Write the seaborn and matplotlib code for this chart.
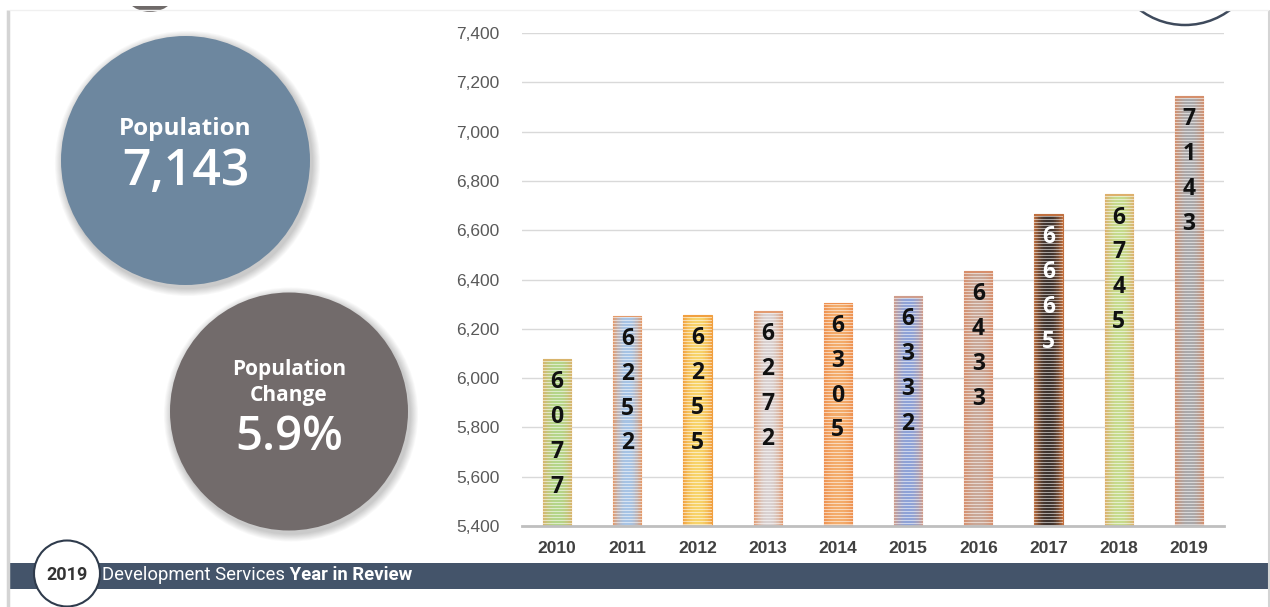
import numpy as np
import pandas as pd
import matplotlib
matplotlib.use("Agg")
import matplotlib.pyplot as plt
import seaborn as sns
from matplotlib.patches import Circle, Rectangle
from matplotlib.ticker import FuncFormatter, MultipleLocator
from matplotlib.colors import to_rgb

# ---- data -------------------------------------------------------------
years = ["2010", "2011", "2012", "2013", "2014", "2015", "2016", "2017", "2018", "2019"]
population = [6077, 6252, 6255, 6272, 6305, 6332, 6433, 6665, 6745, 7143]

# bar fill: colour in the middle of the bar and at its two sides
bar_center_colors = ["#b4d68a", "#a6c4e6", "#f8d46a", "#d9d2d2", "#f4ad6c",
                     "#8ea3d8", "#c9a898", "#3d332e", "#c6dc8e", "#a9a9ab"]
bar_edge_colors = ["#d8b46c", "#e49a6a", "#f1a040", "#e39c72", "#ee9150",
                   "#cf9d8c", "#d88f6c", "#c0703f", "#ddb06c", "#d58f6c"]
label_colors = ["#111111"] * 7 + ["#ffffff"] + ["#111111"] * 2

FIG_W, FIG_H = 1270, 607

fig = plt.figure(figsize=(FIG_W / 100, FIG_H / 100), dpi=100)
fig.patch.set_facecolor("white")

# ---- page decoration layer (pixel coordinates) --------------------------
deco = fig.add_axes([0, 0, 1, 1], zorder=0)
deco.set_xlim(0, FIG_W)
deco.set_ylim(FIG_H, 0)
deco.axis("off")

# page frame lines
deco.plot([7.5, 7.5], [10, FIG_H], color="#d4d4d4", lw=2.5, solid_capstyle="butt")
deco.plot([1268.5, 1268.5], [10, FIG_H], color="#d4d4d4", lw=1.5, solid_capstyle="butt")
deco.plot([10, 1268], [10, 10], color="#f0f0f0", lw=1)

page_clip = Rectangle((0, 10), FIG_W, FIG_H, transform=deco.transData)

# partial shapes running off the top of the page
blob = Circle((150, -18), 30, facecolor="#6f6a69", edgecolor="none")
deco.add_patch(blob)
blob.set_clip_path(Rectangle((0, 6), FIG_W, FIG_H, transform=deco.transData))
ring = Circle((1185, -50), 75, facecolor="none", edgecolor="#3e4a5c", lw=1.8)
deco.add_patch(ring)
ring.set_clip_path(page_clip)


def soft_circle(cx, cy, r, color):
    # blurred shadow under the circle
    for k in range(9, 0, -1):
        deco.add_patch(Circle((cx + 2, cy + 3), r + k * 0.9,
                              facecolor="black", edgecolor="none", alpha=0.022))
    deco.add_patch(Circle((cx, cy), r, facecolor=color, edgecolor="none"))


# summary bubbles
latest = population[-1]
change = (population[-1] - population[-2]) / population[-2] * 100

soft_circle(185.5, 160.5, 124.5, "#6d879f")
deco.text(185.5, 129, "Population", ha="center", va="center", color="white",
          fontsize=17.5, fontweight="bold", family="Open Sans")
deco.text(185.5, 172, f"{latest:,}", ha="center", va="center", color="white",
          fontsize=36, fontweight="semibold", family="Open Sans")

soft_circle(289, 411.5, 119, "#726b6b")
deco.text(289, 370, "Population", ha="center", va="center", color="white",
          fontsize=15, fontweight="bold", family="Open Sans")
deco.text(289, 395, "Change", ha="center", va="center", color="white",
          fontsize=15, fontweight="bold", family="Open Sans")
deco.text(289, 437, f"{change:.1f}%", ha="center", va="center", color="white",
          fontsize=34, fontweight="semibold", family="Open Sans")

# footer band
deco.add_patch(Rectangle((10, 563), FIG_W - 10, 26, facecolor="#44546a", edgecolor="none"))
deco.add_patch(Circle((67, 573.5), 33, facecolor="white", edgecolor="#2f3b4c", lw=1.5))
deco.text(67, 575.5, "2019", ha="center", va="center", color="#333333",
          fontsize=13, fontweight="bold", family="Roboto")
t1 = deco.text(102, 575.5, "Development Services", ha="left", va="center",
               color="white", fontsize=13.3, family="Roboto")
deco.annotate(" Year in Review", xy=(1, 0), xycoords=t1, ha="left", va="bottom",
              color="white", fontsize=13.3, fontweight="bold", family="Roboto")

# ---- population bar chart ------------------------------------------------
ax = fig.add_axes([522 / FIG_W, 1 - 526 / FIG_H, (1224 - 522) / FIG_W, (526 - 33) / FIG_H],
                  zorder=1)
ax.set_facecolor("none")

df = pd.DataFrame({"year": years, "population": population})
sns.barplot(data=df, x="year", y="population", hue="year", palette=bar_center_colors,
            legend=False, width=0.4, saturation=1, ax=ax, zorder=2)

Y_MIN, Y_MAX = 5400, 7400
ax.set_ylim(Y_MIN, Y_MAX)
ax.set_xlim(-0.5, len(years) - 0.5)

# striped gradient texture painted inside each bar
for i, p in enumerate(ax.patches):
    x0, w = p.get_x(), p.get_width()
    top = p.get_y() + p.get_height()
    bottom = max(p.get_y(), Y_MIN)
    px_top = ax.transData.transform((x0, top))[1]
    px_bot = ax.transData.transform((x0, bottom))[1]
    n_rows = max(3, int(round(px_top - px_bot)))
    cols = 40
    t = np.abs(np.linspace(-1, 1, cols)) ** 2.2
    c_mid = np.array(to_rgb(bar_center_colors[i]))
    c_edge = np.array(to_rgb(bar_edge_colors[i]))
    row = c_mid[None, :] * (1 - t[:, None]) + c_edge[None, :] * t[:, None]
    img = np.repeat(row[None, :, :], n_rows, axis=0)
    light = (np.arange(n_rows) % 3) == 2
    img[light] = img[light] * 0.45 + 0.55
    # top rim of the bar
    img[:2] = c_edge
    im = ax.imshow(img, extent=(x0, x0 + w, bottom, top), aspect="auto",
                   interpolation="nearest", origin="upper", zorder=2.5)
    im.set_clip_path(p)
    p.set_edgecolor(bar_edge_colors[i])
    p.set_linewidth(0.8)

ax.set_ylim(Y_MIN, Y_MAX)
ax.set_xlim(-0.5, len(years) - 0.5)

# value written digit by digit inside each bar
for i, v in enumerate(population):
    ax.annotate("\n".join(str(v)), xy=(i, v), xytext=(0, -8), textcoords="offset points",
                ha="center", va="top", fontsize=16.5, fontweight="bold", family="Open Sans",
                linespacing=1.6, color=label_colors[i], zorder=4)

ax.yaxis.set_major_locator(MultipleLocator(200))
ax.yaxis.set_major_formatter(FuncFormatter(lambda v, _: f"{int(v):,}"))
ax.grid(axis="y", color="#d9d9d9", lw=1)
ax.set_axisbelow(True)
for s in ("left", "top", "right"):
    ax.spines[s].set_visible(False)
ax.spines["bottom"].set_color("#bfbfbf")
ax.spines["bottom"].set_linewidth(2)
ax.set_xlabel("")
ax.set_ylabel("")
ax.tick_params(axis="y", length=0, pad=16, labelsize=12.5, labelcolor="#595959")
ax.tick_params(axis="x", length=0, pad=11, labelsize=12.5, labelcolor="#404040")
for lab in ax.get_yticklabels():
    lab.set_family("Liberation Sans")
for lab in ax.get_xticklabels():
    lab.set_family("Liberation Sans")
    lab.set_fontweight("bold")

fig.savefig("out.png", dpi=100)
